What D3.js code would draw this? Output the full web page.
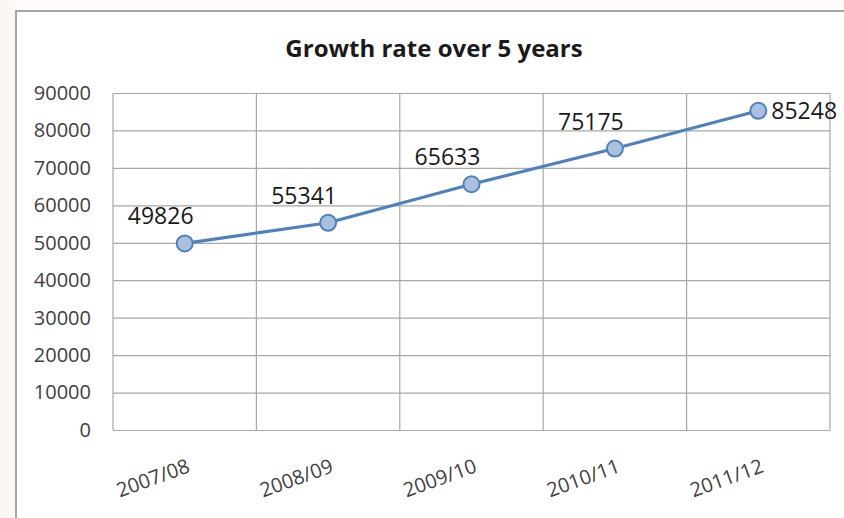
<!DOCTYPE html>
<html>
<head>
<meta charset="utf-8">
<script src="https://cdn.jsdelivr.net/npm/d3@7/dist/d3.min.js"></script>
<style>
  html, body { margin: 0; padding: 0; background: #ffffff; }
  svg { display: block; font-family: "Open Sans", "DejaVu Sans", sans-serif; }
</style>
</head>
<body>
<svg id="chart" width="844" height="518"></svg>
<script>
// Chart data
const title = "Growth rate over 5 years";
const years = ["2007/08", "2008/09", "2009/10", "2010/11", "2011/12"];
const values = [49826, 55341, 65633, 75175, 85248];
const yTicks = [0, 10000, 20000, 30000, 40000, 50000, 60000, 70000, 80000, 90000];

const svg = d3.select("#chart");
const W = 844, H = 518;
const plot = { left: 113, right: 830, top: 93, bottom: 430 };

// Page strip and chart frame
svg.append("rect").attr("x", 0).attr("y", 0).attr("width", 15).attr("height", H).attr("fill", "#fbf8f3");
svg.append("rect").attr("x", 15).attr("y", 0).attr("width", W - 15).attr("height", 11).attr("fill", "#fdfcfa");
svg.append("path")
  .attr("d", `M16,${H} L16,11 L${W},11`)
  .attr("fill", "none").attr("stroke", "#a6a6a6").attr("stroke-width", 2);

// Scales
const x = d3.scaleBand().domain(years).range([plot.left, plot.right]).padding(0);
const y = d3.scaleLinear().domain([0, 90000]).range([plot.bottom, plot.top]);

// Horizontal gridlines
svg.append("g")
  .attr("transform", `translate(${plot.left},0)`)
  .call(d3.axisLeft(y).tickValues(yTicks).tickSize(-(plot.right - plot.left)).tickFormat(""))
  .call(g => g.select(".domain").remove())
  .call(g => g.selectAll("line").attr("stroke", "#a8a8a8").attr("stroke-width", 1.2));

// Vertical category dividers
const dividers = years.map(d => x(d)).concat([x(years[years.length - 1]) + x.bandwidth()]);
svg.append("g").selectAll("line").data(dividers).join("line")
  .attr("x1", d => d).attr("x2", d => d)
  .attr("y1", plot.top).attr("y2", plot.bottom)
  .attr("stroke", "#a8a8a8").attr("stroke-width", 1.2);

// Y axis labels
svg.append("g")
  .attr("transform", `translate(${plot.left},0)`)
  .call(d3.axisLeft(y).tickValues(yTicks).tickSize(0).tickPadding(22).tickFormat(d3.format("d")))
  .call(g => g.select(".domain").remove())
  .call(g => g.selectAll("text")
    .attr("font-family", "Open Sans, sans-serif")
    .attr("font-size", 20).attr("fill", "#404040"));

// X axis labels, rotated
svg.append("g").selectAll("text").data(years).join("text")
  .attr("transform", d => `translate(${x(d) + x.bandwidth() / 2 + 4},${465}) rotate(-20)`)
  .attr("text-anchor", "end")
  .attr("dy", "0.35em")
  .attr("font-size", 20).attr("fill", "#404040")
  .text(d => d);

// Title
svg.append("text")
  .attr("x", 434).attr("y", 57)
  .attr("text-anchor", "middle")
  .attr("font-size", 24).attr("font-weight", "bold").attr("fill", "#1a1a1a")
  .text(title);

// Series line
const pts = years.map((d, i) => ({ cat: d, v: values[i] }));
const cx = d => x(d.cat) + x.bandwidth() / 2;
svg.append("path")
  .datum(pts)
  .attr("d", d3.line().x(cx).y(d => y(d.v)))
  .attr("fill", "none").attr("stroke", "#4f81bd").attr("stroke-width", 3.2)
  .attr("stroke-linejoin", "round");

// Markers
svg.append("g").selectAll("circle").data(pts).join("circle")
  .attr("cx", cx).attr("cy", d => y(d.v)).attr("r", 8)
  .attr("fill", "#a9c0df").attr("stroke", "#4f81bd").attr("stroke-width", 2);

// Value labels: above-left, last one to the right
svg.append("g").selectAll("text").data(pts).join("text")
  .attr("x", (d, i) => i === pts.length - 1 ? cx(d) + 13 : cx(d) - 24)
  .attr("y", (d, i) => i === pts.length - 1 ? y(d.v) : y(d.v) - 19)
  .attr("dy", (d, i) => i === pts.length - 1 ? "0.35em" : 0)
  .attr("text-anchor", (d, i) => i === pts.length - 1 ? "start" : "middle")
  .attr("font-size", 23).attr("fill", "#1a1a1a")
  .text(d => d.v);
</script>
</body>
</html>
